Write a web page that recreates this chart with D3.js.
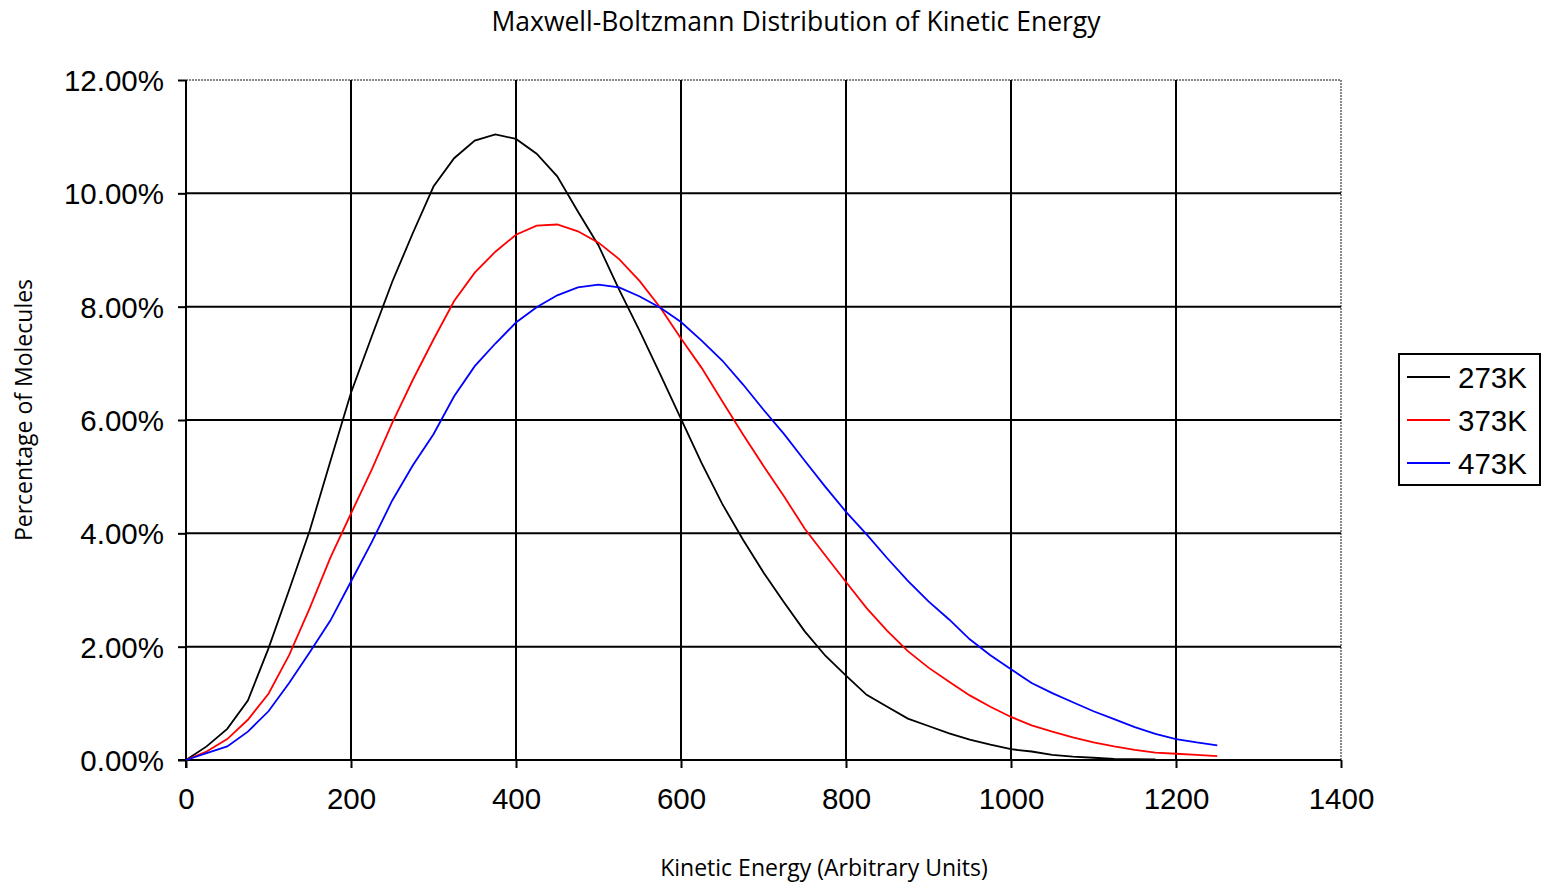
<!DOCTYPE html>
<html><head><meta charset="utf-8">
<script src="https://cdn.jsdelivr.net/npm/d3@7"></script>
<style>html,body{margin:0;padding:0;background:#fff;}svg{display:block;}</style>
</head><body><svg id="c" width="1543" height="885"></svg>
<script>
const energy = [0,25,50,75,100,125,150,175,200,225,250,275,300,325,350,375,400,425,450,475,500,525,550,575,600,625,650,675,700,725,750,775,800,825,850,875,900,925,950,975,1000,1025,1050,1075,1100,1125,1150,1175,1200,1225,1250];
const k273 = [0,0.24,0.55,1.05,1.97,3.00,4.05,5.27,6.48,7.47,8.44,9.30,10.12,10.62,10.93,11.04,10.96,10.70,10.30,9.68,9.08,8.30,7.57,6.80,6.02,5.24,4.52,3.89,3.31,2.78,2.27,1.84,1.49,1.15,0.94,0.73,0.60,0.47,0.36,0.27,0.19,0.15,0.09,0.06,0.04,0.02,0.015,0.01];
const k373 = [0,0.15,0.37,0.71,1.17,1.85,2.68,3.57,4.35,5.12,5.95,6.71,7.42,8.10,8.60,8.97,9.27,9.43,9.45,9.33,9.13,8.84,8.45,7.98,7.44,6.92,6.33,5.75,5.19,4.65,4.08,3.61,3.14,2.68,2.28,1.92,1.63,1.38,1.14,0.94,0.76,0.61,0.50,0.40,0.31,0.24,0.18,0.13,0.11,0.09,0.07];
const k473 = [0,0.12,0.24,0.50,0.86,1.36,1.90,2.46,3.15,3.84,4.58,5.20,5.75,6.42,6.95,7.35,7.72,7.99,8.20,8.34,8.39,8.34,8.18,7.98,7.73,7.40,7.05,6.63,6.18,5.75,5.28,4.82,4.38,3.98,3.56,3.16,2.80,2.48,2.13,1.85,1.60,1.36,1.18,1.02,0.86,0.72,0.58,0.46,0.37,0.31,0.26];
const seriesNames = ["273K","373K","473K"];
const seriesColors = ["#000000","#ff0000","#0000ff"];
const xTicks = [0,200,400,600,800,1000,1200,1400];
const yTicks = [0,2,4,6,8,10,12];

const svg = d3.select("#c");
const L=186, R=1341, T=80, B=760;
const x = d3.scaleLinear().domain([0,1400]).range([L,R]);
const y = d3.scaleLinear().domain([0,12]).range([B,T]);
const fnt = "'Liberation Sans', Arial, sans-serif";
const tfnt = "'Open Sans', 'Noto Sans', sans-serif";

// top & right border dotted grey
svg.append("line").attr("x1",L).attr("x2",R).attr("y1",T).attr("y2",T)
  .attr("stroke","#888").attr("stroke-width",2).attr("stroke-dasharray","2,1");
svg.append("line").attr("x1",R).attr("x2",R).attr("y1",T).attr("y2",B)
  .attr("stroke","#888").attr("stroke-width",2).attr("stroke-dasharray","2,1");

// gridlines
const g = svg.append("g");
yTicks.filter(v=>v>0&&v<12).forEach(v=>{
  g.append("line").attr("x1",L).attr("x2",R).attr("y1",y(v)).attr("y2",y(v)).attr("stroke","#000").attr("stroke-width",2);
});
xTicks.filter(v=>v>0&&v<1400).forEach(v=>{
  g.append("line").attr("x1",x(v)).attr("x2",x(v)).attr("y1",T).attr("y2",B).attr("stroke","#000").attr("stroke-width",2);
});

// axes
const yAxis = d3.axisLeft(y).tickValues(yTicks).tickSize(8).tickPadding(14).tickFormat(d=>d.toFixed(2)+"%");
const ya = svg.append("g").attr("transform",`translate(${L},0)`).call(yAxis);
const xAxis = d3.axisBottom(x).tickValues(xTicks).tickSize(8).tickPadding(20).tickFormat(d3.format("d"));
const xa = svg.append("g").attr("transform",`translate(0,${B})`).call(xAxis);
[ya,xa].forEach(a=>{
  a.select(".domain").remove();
  a.selectAll(".tick line").attr("stroke","#000").attr("stroke-width",2);
  a.selectAll(".tick text").attr("fill","#000").attr("font-family",fnt).attr("font-size",29.5);
});
ya.selectAll(".tick text").attr("dy","0.36em");
svg.append("line").attr("x1",L).attr("x2",L).attr("y1",T).attr("y2",B+8).attr("stroke","#000").attr("stroke-width",2);
svg.append("line").attr("x1",L-8).attr("x2",R).attr("y1",B).attr("y2",B).attr("stroke","#000").attr("stroke-width",2);

// series
const data = [k273,k373,k473];
const line = d3.line().x(d=>x(d[0])).y(d=>y(d[1]));
data.forEach((vals,i)=>{
  const pts = vals.map((v,j)=>[energy[j],v]);
  svg.append("path").attr("d",line(pts)).attr("fill","none")
    .attr("stroke",seriesColors[i]).attr("stroke-width",1.8);
});

// titles
svg.append("text").attr("x",796).attr("y",31).attr("text-anchor","middle")
  .attr("font-family",tfnt).attr("font-size",26.5).attr("fill","#000")
  .text("Maxwell-Boltzmann Distribution of Kinetic Energy");
svg.append("text").attr("x",824).attr("y",876).attr("text-anchor","middle")
  .attr("font-family",tfnt).attr("font-size",23).attr("fill","#000")
  .text("Kinetic Energy (Arbitrary Units)");
svg.append("text").attr("transform","translate(32,410) rotate(-90)").attr("text-anchor","middle")
  .attr("font-family",tfnt).attr("font-size",23).attr("fill","#000")
  .text("Percentage of Molecules");

// legend
const lg = svg.append("g");
lg.append("rect").attr("x",1399).attr("y",354).attr("width",141).attr("height",131)
  .attr("fill","#fff").attr("stroke","#000").attr("stroke-width",2);
seriesNames.forEach((n,i)=>{
  const yy = 377 + i*43;
  lg.append("line").attr("x1",1407).attr("x2",1450).attr("y1",yy).attr("y2",yy)
    .attr("stroke",seriesColors[i]).attr("stroke-width",1.8);
  lg.append("text").attr("x",1458).attr("y",yy).attr("dy","0.36em")
    .attr("font-family",fnt).attr("font-size",29.5).attr("fill","#000").text(n);
});
</script></body></html>
